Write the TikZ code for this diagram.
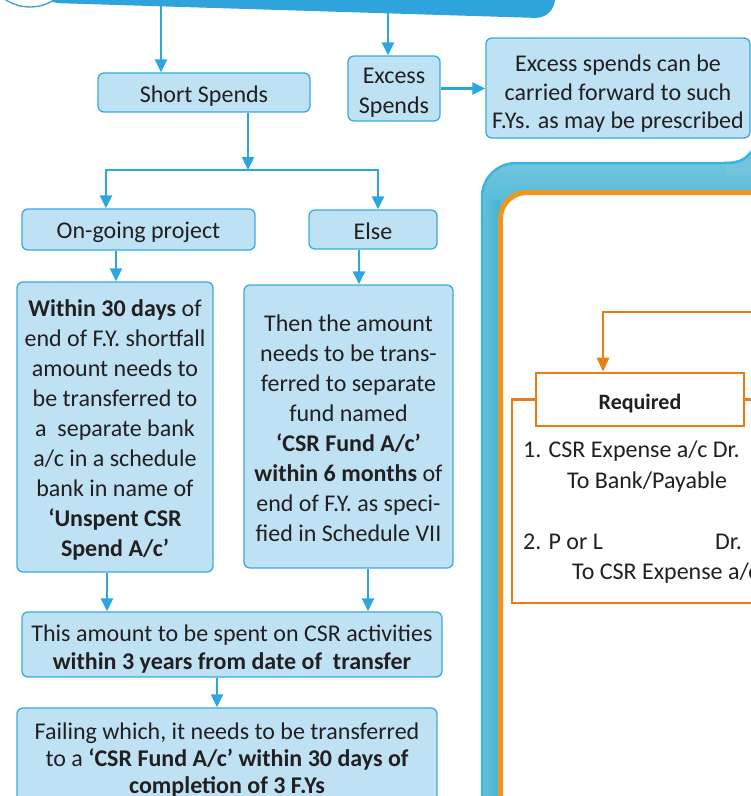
\documentclass[tikz,border=0pt]{standalone}
\usepackage{fontspec}
\setmainfont{Carlito}
\usetikzlibrary{arrows.meta}

\definecolor{bannerblue}{RGB}{46,163,220}
\definecolor{boxfill}{RGB}{190,226,244}
\definecolor{boxline}{RGB}{58,170,225}
\definecolor{arrowblue}{RGB}{45,165,221}
\definecolor{ink}{RGB}{35,31,32}
\definecolor{panelblue}{RGB}{66,180,214}
\definecolor{panellight}{RGB}{114,197,221}
\definecolor{panelrim}{RGB}{59,180,226}
\definecolor{frameorange}{RGB}{240,150,30}
\definecolor{lineorange}{RGB}{236,125,20}

% strut at the head of a box text: moves the lines a little below the box centre
\newcommand{\headstrut}[1]{\rule{0pt}{#1}}

\tikzset{
  infobox/.style={draw=boxline, line width=1.3pt, fill=boxfill, rounded corners=6pt,
    inner sep=0pt, align=center, text=ink, font=\fontsize{24}{30}\selectfont},
  flow/.style={draw=arrowblue, line width=2.4pt, -{Triangle[length=13pt,width=12pt]}},
  oflow/.style={draw=lineorange, line width=2.6pt, -{Triangle[length=14pt,width=12pt]}},
  oline/.style={draw=lineorange, line width=2.6pt},
  entry/.style={anchor=base west, inner sep=0pt, text=ink, font=\fontsize{24}{30}\selectfont},
}

\begin{document}
\begin{tikzpicture}[x=1pt, y=-1pt]
\useasboundingbox (0,0) rectangle (751,796);
\clip (0,0) rectangle (751,796);

% heading banner and its round badge
\fill[bannerblue, rounded corners=20pt] (20,-60) -- (555,-60) -- (555,18.5) -- (40,2.6) -- cycle;
\draw[fill=white, draw=bannerblue, line width=1.3pt] (30,-37.6) circle[radius=44.6pt];
\coordinate (src1) at (161,6);
\coordinate (src2) at (388,12);

% accounting panel on the right
\path[fill=panelblue, draw=panelrim, line width=2.5pt, rounded corners=34pt] (482,830) rectangle (790,163);
\begin{scope}
  \clip[rounded corners=33pt] (483.3,830) rectangle (790,164.3);
  \shade[top color=panellight, bottom color=panelblue] (482,160) rectangle (790,240);
  \fill[panelblue] (482,239) rectangle (790,830);
  \shade[left color=panellight!70!panelblue, right color=panelblue] (482,200) rectangle (500,830);
\end{scope}
\fill[panellight] (726,164.3) .. controls (742,164) and (747,158) .. (754,148) -- (754,175) -- (726,175) -- cycle;
\draw[panelrim, line width=2.5pt] (724,163) .. controls (742,163) and (747,158) .. (754,148);
\path[draw=frameorange, fill=white, line width=5pt, rounded corners=26pt] (500.5,830) rectangle (790,192.5);

% flow chart boxes
\node[infobox, minimum width=212pt, minimum height=39pt] (short) at (204,92.5) {\headstrut{23pt}Short Spends};
\node[infobox, minimum width=92pt, minimum height=65pt] (excess) at (394,88.5) {\headstrut{24pt}Excess\\Spends};
\node[infobox, minimum width=264pt, minimum height=100pt, font=\fontsize{24}{28.7}\selectfont]
  (carry) at (618,88) {\headstrut{28pt}Excess spends can be\\carried forward to such\\F.Ys. as may be prescribed};
\node[infobox, minimum width=233pt, minimum height=41pt] (ongoing) at (138.5,229.5) {\headstrut{22pt}On-going project};
\node[infobox, minimum width=128pt, minimum height=39pt] (else) at (373,229.5) {\headstrut{21pt}Else};
\node[infobox, minimum width=196pt, minimum height=290pt] (within) at (115,427)
  {\headstrut{23pt}\textbf{Within 30 days} of\\end of F.Y. shortfall\\amount needs to\\be transferred to\\a~ separate bank\\a/c in a schedule\\bank in name of\\\textbf{‘Unspent CSR}\\\textbf{Spend A/c’}};
\node[infobox, minimum width=209pt, minimum height=283pt] (then) at (348.5,426.5)
  {\headstrut{21pt}Then the amount\\needs to be trans-\\ferred to separate\\fund named\\\textbf{‘CSR Fund A/c’}\\\textbf{within 6 months} of\\end of F.Y. as speci-\\fied in Schedule VII};
\node[infobox, minimum width=420pt, minimum height=65pt, font=\fontsize{24}{28}\selectfont]
  (spent) at (232,644.5) {\headstrut{26pt}This amount to be spent on CSR activities\\\textbf{within 3 years from date of~ transfer}};
\node[infobox, minimum width=420pt, minimum height=100pt, font=\fontsize{24}{27}\selectfont]
  (failing) at (227,758) {\headstrut{21pt}Failing which, it needs to be transferred\\to a \textbf{‘CSR Fund A/c’ within 30 days of}\\\textbf{completion of 3 F.Ys}};

% blue connectors
\coordinate (split) at (248,170);
\path ([xshift=-22.5pt]ongoing.south) coordinate (a1)
      ([xshift=-14pt]else.south) coordinate (a2)
      ([xshift=-8pt]within.south) coordinate (a3)
      ([xshift=19.5pt]then.south) coordinate (a4)
      ([xshift=-15pt]spent.south) coordinate (a5);
\draw[flow] (src1) -- (src1 |- short.north);
\draw[flow] (src2) -- (src2 |- excess.north);
\draw[flow] (excess.east) -- (excess.east -| carry.west);
\draw[flow] (split |- short.south) -- (split);
\draw[flow] (split) -| ([xshift=-32.5pt]ongoing.north);
\draw[flow] (split) -| ([xshift=5pt]else.north);
\draw[flow] (a1) -- (a1 |- within.north);
\draw[flow] (a2) -- (a2 |- then.north);
\draw[flow] (a3) -- (a3 |- spent.north);
\draw[flow] (a4) -- (a4 |- spent.north);
\draw[flow] (a5) -- (a5 |- failing.north);

% journal entries
\node[draw=lineorange, line width=2.6pt, fill=white, minimum width=208pt, minimum height=53pt,
  inner sep=0pt, text=ink, font=\bfseries\fontsize{22}{26}\selectfont,
  text height=23.5pt, text depth=4pt] (req) at (640,399.5) {Required};
\coordinate (feed) at (770,312);
\coordinate (fcorner) at (512,603);
\coordinate (fend) at (770,603);
\draw[oflow] (feed) -| ([xshift=-37pt]req.north);
\draw[oline] (req.west) -| (fcorner) -- (fend);
\draw[oline] (req.east) -- (req.east -| fend);

\node[entry] (e1) at (523,457) {1. CSR Expense a/c Dr.};
\node[entry] (e2) at (567,488) {To Bank/Payable};
\node[entry] (e3) at (523,549) {2. P or L};
\node[entry] (e4) at (715,549) {Dr.};
\node[entry] (e5) at (572,579) {To CSR Expense a/c};
\end{tikzpicture}
\end{document}
